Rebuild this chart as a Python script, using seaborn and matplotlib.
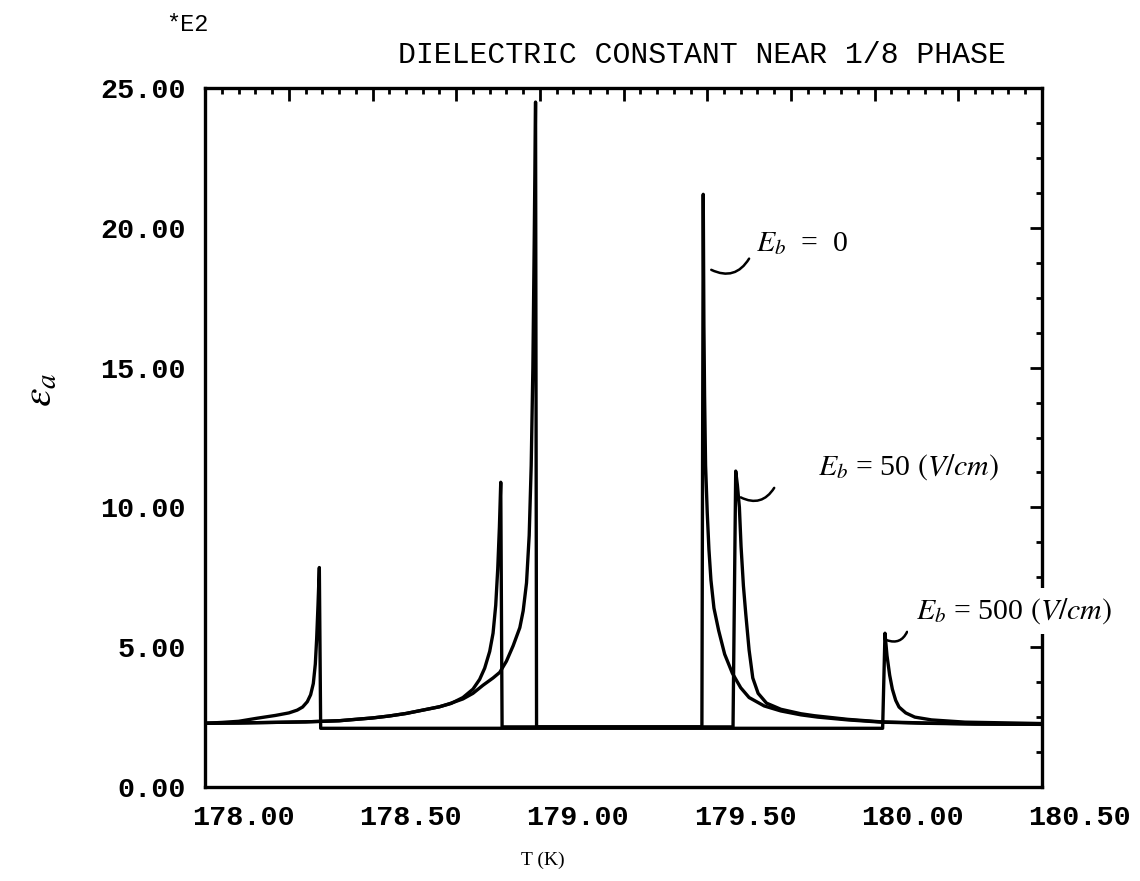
import matplotlib
matplotlib.use("Agg")
import matplotlib.pyplot as plt
import matplotlib.transforms as mtransforms
from matplotlib.ticker import FixedLocator, FixedFormatter, MultipleLocator
import seaborn as sns
import pandas as pd

# ---------------- data (epsilon_a in units of 1E2) ----------------
T_eb0 = [178.00, 178.10, 178.20, 178.30, 178.40, 178.50, 178.55, 178.60, 178.65,
         178.70, 178.73, 178.77, 178.80, 178.83, 178.86, 178.88, 178.90, 178.92,
         178.94, 178.95, 178.96, 178.968, 178.974, 178.979, 178.983, 178.987,
         178.990, 179.484, 179.488, 179.490, 179.492, 179.495, 179.500, 179.505,
         179.511, 179.520, 179.534, 179.552, 179.575, 179.600, 179.625, 179.670,
         179.720, 179.780, 179.830, 179.920, 180.020, 180.150, 180.300, 180.500]
E_eb0 = [2.28, 2.29, 2.31, 2.33, 2.37, 2.47, 2.54, 2.63, 2.75,
         2.87, 2.98, 3.15, 3.35, 3.64, 3.90, 4.10, 4.50, 5.05,
         5.70, 6.30, 7.30, 9.00, 11.5, 15.0, 19.5, 24.5,
         2.15, 2.15, 21.2, 16.5, 14.0, 11.5, 9.8, 8.5,
         7.4, 6.4, 5.6, 4.75, 4.07, 3.55, 3.20, 2.90,
         2.72, 2.58, 2.50, 2.40, 2.32, 2.28, 2.25, 2.24]

T_eb50 = [178.00, 178.10, 178.20, 178.30, 178.40, 178.50, 178.55, 178.60, 178.65,
          178.70, 178.735, 178.77, 178.80, 178.82, 178.835, 178.85, 178.86,
          178.868, 178.874, 178.879, 178.883, 178.887, 179.577, 179.585,
          179.590, 179.596, 179.601, 179.608, 179.615, 179.625, 179.636,
          179.652, 179.677, 179.720, 179.780, 179.820, 179.920, 180.020,
          180.150, 180.300, 180.500]
E_eb50 = [2.28, 2.29, 2.31, 2.33, 2.37, 2.47, 2.54, 2.63, 2.75,
          2.87, 2.99, 3.20, 3.50, 3.85, 4.25, 4.85, 5.50,
          6.50, 7.80, 9.30, 10.9, 2.15, 2.15, 11.3,
          10.8, 10.0, 8.6, 7.2, 6.2, 4.9, 3.9,
          3.35, 3.00, 2.78, 2.62, 2.55, 2.42, 2.33,
          2.29, 2.26, 2.24]

T_eb500 = [178.00, 178.05, 178.10, 178.155, 178.21, 178.25, 178.275, 178.291,
           178.305, 178.315, 178.323, 178.329, 178.333, 178.337, 178.341,
           178.345, 180.024, 180.031, 180.037, 180.045, 180.053, 180.063,
           180.073, 180.093, 180.120, 180.170, 180.270, 180.500]
E_eb500 = [2.28, 2.31, 2.35, 2.46, 2.56, 2.65, 2.75, 2.86,
           3.05, 3.30, 3.70, 4.40, 5.30, 6.50, 7.85,
           2.10, 2.10, 5.50, 4.70, 4.00, 3.50, 3.10,
           2.86, 2.65, 2.50, 2.40, 2.32, 2.27]

x_tick_values = [178.00, 178.25, 178.50, 178.75, 179.00, 179.25, 179.50,
                 179.75, 180.00, 180.25, 180.50]
x_tick_labels = ["178.00", "", "178.50", "", "179.00", "", "179.50",
                 "", "180.00", "", "180.50"]
y_tick_values = [0, 5, 10, 15, 20, 25]
y_tick_labels = ["0.00", "5.00", "10.00", "15.00", "20.00", "25.00"]

title_text = "DIELECTRIC CONSTANT NEAR 1/8 PHASE"
label_texts = [r"$E_b$  =  0", r"$E_b$ = 50 $(V/cm)$", r"$E_b$ = 500 $(V/cm)$"]
label_pos = [(179.645, 19.45), (179.83, 11.45), (180.125, 6.3)]
leader_start = [(179.512, 18.5), (179.600, 10.36), (180.037, 5.25)]
leader_end = [(179.625, 18.9), (179.700, 10.7), (180.097, 5.55)]

# ---------------- styling ----------------
sns.set_theme(style="white")
plt.rcParams["font.family"] = ["Liberation Mono", "DejaVu Sans"]
plt.rcParams["mathtext.fontset"] = "stix"

fig = plt.figure(figsize=(11.4, 8.81), dpi=100)
ax = fig.add_axes([0.180, 0.1067, 0.734, 0.7933])

curves = [
    pd.DataFrame({"T": T_eb0, "eps": E_eb0}),
    pd.DataFrame({"T": T_eb50, "eps": E_eb50}),
    pd.DataFrame({"T": T_eb500, "eps": E_eb500}),
]
for df in curves:
    sns.lineplot(data=df, x="T", y="eps", sort=False, estimator=None,
                 color="black", lw=2.4, ax=ax)

ax.set_xlim(178.0, 180.5)
ax.set_ylim(0, 25)

ax.xaxis.set_major_locator(FixedLocator(x_tick_values))
ax.xaxis.set_major_formatter(FixedFormatter(x_tick_labels))
ax.xaxis.set_minor_locator(MultipleLocator(0.05))
ax.yaxis.set_major_locator(FixedLocator(y_tick_values))
ax.yaxis.set_major_formatter(FixedFormatter(y_tick_labels))
ax.yaxis.set_minor_locator(MultipleLocator(1.25))

ax.tick_params(which="both", direction="in", top=True, right=True,
               color="black", width=2)
ax.tick_params(which="major", length=9)
ax.tick_params(which="minor", length=4)
ax.tick_params(axis="x", which="major", pad=13, labelsize=20.5)
ax.tick_params(axis="y", which="major", pad=14, labelsize=20.5)
for lab in ax.get_xticklabels() + ax.get_yticklabels():
    lab.set_fontweight("bold")
    lab.set_color("black")

# x tick labels are shifted to the right of their ticks in the original
offset = mtransforms.ScaledTranslation(0.38, 0, fig.dpi_scale_trans)
for lab in ax.get_xticklabels():
    lab.set_transform(lab.get_transform() + offset)

for sp in ax.spines.values():
    sp.set_visible(True)
    sp.set_color("black")
    sp.set_linewidth(2.4)

ax.set_xlabel("")
ax.set_ylabel("")

# annotations
for i, (txt, pos, s, e) in enumerate(zip(label_texts, label_pos,
                                          leader_start, leader_end)):
    kw = {}
    if i == 2:
        kw["bbox"] = dict(facecolor="white", edgecolor="none", pad=6)
    ax.text(pos[0], pos[1], txt, fontsize=21.5, va="center", ha="left",
            family="Liberation Serif", color="black", zorder=6, **kw)
    ax.annotate("", xy=s, xytext=e,
                arrowprops=dict(arrowstyle="-", color="black", lw=1.8,
                                connectionstyle="arc3,rad=-0.45",
                                shrinkA=0, shrinkB=0))

fig.text(0.616, 0.9376, title_text, ha="center", va="center",
         fontsize=21.5, color="black", family=["Liberation Mono"])
fig.text(0.164, 0.972, "*E2", ha="center", va="center", fontsize=17,
         color="black", family=["Liberation Mono"])
fig.text(0.035, 0.557, r"$\varepsilon_a$", ha="center", va="center",
         rotation=90, fontsize=30, color="black")
fig.text(0.476, 0.024, "T (K)", ha="center", va="center", fontsize=14,
         color="black", family=["Liberation Serif"])

fig.savefig("out.png", dpi=100, facecolor="white")
